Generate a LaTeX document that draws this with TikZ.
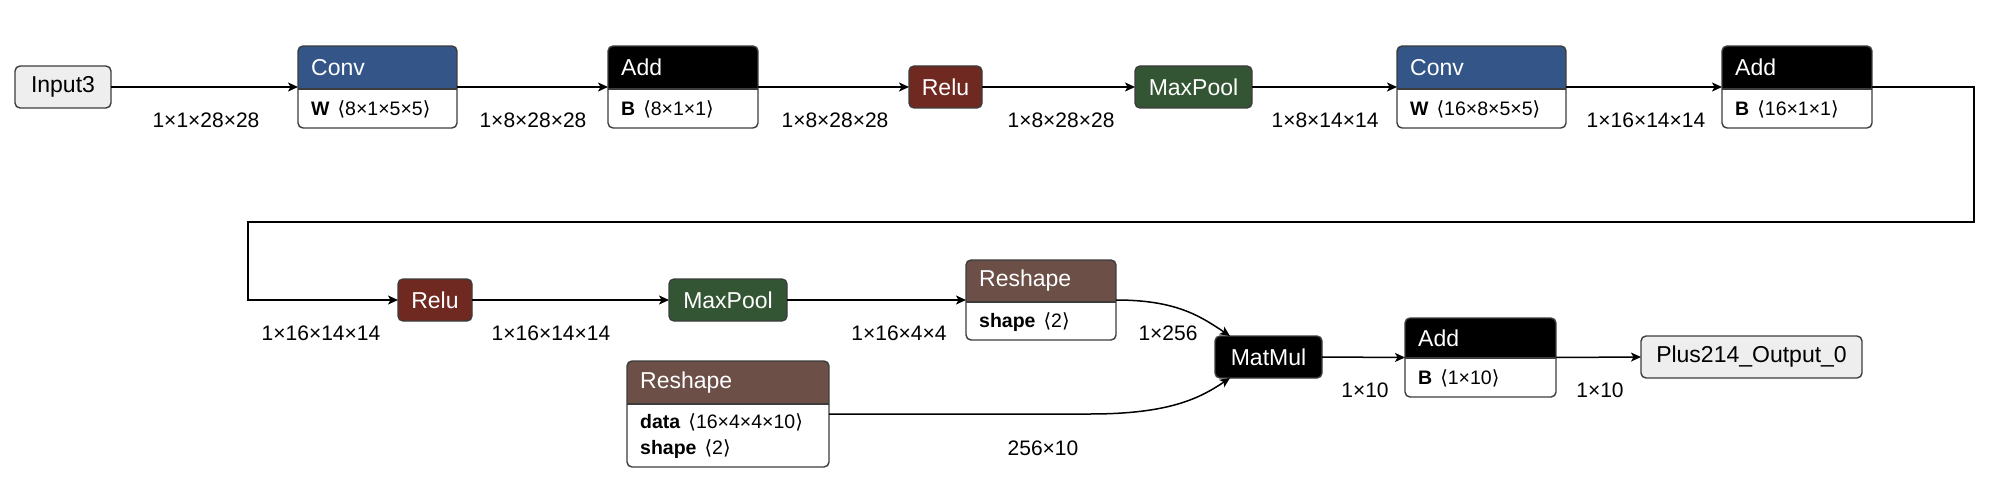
\documentclass[tikz,border=0pt]{standalone}
\usepackage{fontspec}
\setmainfont{Liberation Sans}
\newfontfamily\brfont{DejaVu Sans}
\usetikzlibrary{arrows.meta,calc}
\definecolor{convc}{RGB}{51,85,136}
\definecolor{reluc}{RGB}{112,41,33}
\definecolor{poolc}{RGB}{51,85,51}
\definecolor{shapec}{RGB}{108,79,71}
\definecolor{ioc}{RGB}{238,238,238}
\definecolor{bordc}{RGB}{60,60,60}
\newcommand\attr[2]{\textbf{#1}\hspace{8pt}{\brfont ⟨}#2{\brfont ⟩}}
\tikzset{
  frame/.style={draw=bordc, line width=1.4pt, rounded corners=5pt},
  ttl/.style={font=\fontsize{23}{27}\selectfont, text=white, inner sep=0pt, anchor=west},
  bdy/.style={font=\fontsize{19.5}{26}\selectfont, inner sep=0pt, anchor=west, align=left},
  lbl/.style={font=\fontsize{21}{25}\selectfont, inner sep=0pt},
  edge/.style={line width=1.5pt, -{Stealth[length=10pt,width=9pt,inset=2.5pt]}},
}
% name, x1, y1, x2, yheader, y2, colour, title, body
\newcommand\opnode[9]{%
  \node[inner sep=0pt, outer sep=0pt, minimum width={(#4-#2)*1pt}, minimum height={(#6-#3)*1pt}, anchor=north west] (#1) at (#2,#3) {};
  \begin{scope}
    \clip[rounded corners=5pt] (#1.north west) rectangle (#1.south east);
    \fill[white] (#1.north west) rectangle (#1.south east);
    \fill[#7] (#1.north west) rectangle (#4,#5);
  \end{scope}
  \draw[frame] (#1.north west) rectangle (#1.south east);
  \draw[draw=bordc, line width=1.4pt] (#2,#5) -- (#4,#5);
  \node[ttl] (#1t) at (#2+13,{(#3+#5)/2}) {#8};
  \node[bdy] (#1b) at (#2+13,{(#5+#6)/2+1}) {#9};
}
% name, x1, y1, x2, y2, fill, text colour, text
\newcommand\simnode[8]{%
  \node[frame, fill=#6, text=#7, inner sep=0pt, outer sep=0pt, minimum width={(#4-#2)*1pt}, minimum height={(#5-#3)*1pt}, anchor=north west, font=\fontsize{23}{27}\selectfont] (#1) at (#2,#3) {#8};
}
\begin{document}
\begin{tikzpicture}[x=1pt, y=-1pt]
\useasboundingbox (0,0) rectangle (2000,500);
% row 1
\simnode{in}{15}{66}{111}{108}{ioc}{black}{Input3}
\opnode{conv1}{298}{46}{457}{89}{128}{convc}{Conv}{\attr{W}{8×1×5×5}}
\opnode{add1}{608}{46}{758}{89}{128}{black}{Add}{\attr{B}{8×1×1}}
\simnode{relu1}{909}{66}{982}{108}{reluc}{white}{Relu}
\simnode{mp1}{1135}{66}{1252}{108}{poolc}{white}{MaxPool}
\opnode{conv2}{1397}{46}{1566}{89}{128}{convc}{Conv}{\attr{W}{16×8×5×5}}
\opnode{add2}{1722}{46}{1872}{89}{128}{black}{Add}{\attr{B}{16×1×1}}
% row 2
\simnode{relu2}{398}{279}{472}{321}{reluc}{white}{Relu}
\simnode{mp2}{669}{279}{787}{321}{poolc}{white}{MaxPool}
\opnode{r1}{966}{260}{1116}{302}{340}{shapec}{Reshape}{\attr{shape}{2}}
\simnode{mm}{1215}{336}{1322}{378}{black}{white}{MatMul}
\opnode{r2}{627}{361}{829}{404}{467}{shapec}{Reshape}{\attr{data}{16×4×4×10}\\\attr{shape}{2}}
\opnode{add3}{1405}{318}{1556}{358}{397}{black}{Add}{\attr{B}{1×10}}
\simnode{out}{1641}{336}{1862}{378}{ioc}{black}{Plus214\_Output\_0}
% edges
\draw[edge] (in.east) -- (conv1.west);
\draw[edge] (conv1.east) -- (add1.west);
\draw[edge] (add1.east) -- (relu1.west);
\draw[edge] (relu1.east) -- (mp1.west);
\draw[edge] (mp1.east) -- (conv2.west);
\draw[edge] (conv2.east) -- (add2.west);
\draw[edge] (add2.east) -- (1974,87) -- (1974,222) -- (248,222) -- (248,300) -- (relu2.west);
\draw[edge] (relu2.east) -- (mp2.west);
\draw[edge] (mp2.east) -- (r1.west);
\draw[edge] (r1.east) .. controls +(60,0) and +(-30,-20) .. ($(mm.north west)+(15,0)$);
\draw[edge] (r2.east) -- (1090,414) .. controls (1170,414) and (1200,398) .. ($(mm.south west)+(15,0)$);
\draw[edge] (mm.east) -- (add3.west);
\draw[edge] (add3.east) -- (out.west);
% labels
\node[lbl] (l1) at (206,120) {1×1×28×28};
\node[lbl] (l2) at (533,120) {1×8×28×28};
\node[lbl] (l3) at (835,120) {1×8×28×28};
\node[lbl] (l4) at (1061,120) {1×8×28×28};
\node[lbl] (l5) at (1325,120) {1×8×14×14};
\node[lbl] (l6) at (1646,120) {1×16×14×14};
\node[lbl] (l7) at (321,333) {1×16×14×14};
\node[lbl] (l8) at (551,333) {1×16×14×14};
\node[lbl] (l9) at (899,333) {1×16×4×4};
\node[lbl] (l10) at (1168,333) {1×256};
\node[lbl] (l11) at (1043,448) {256×10};
\node[lbl] (l12) at (1365,390) {1×10};
\node[lbl] (l13) at (1600,390) {1×10};
\end{tikzpicture}
\end{document}
